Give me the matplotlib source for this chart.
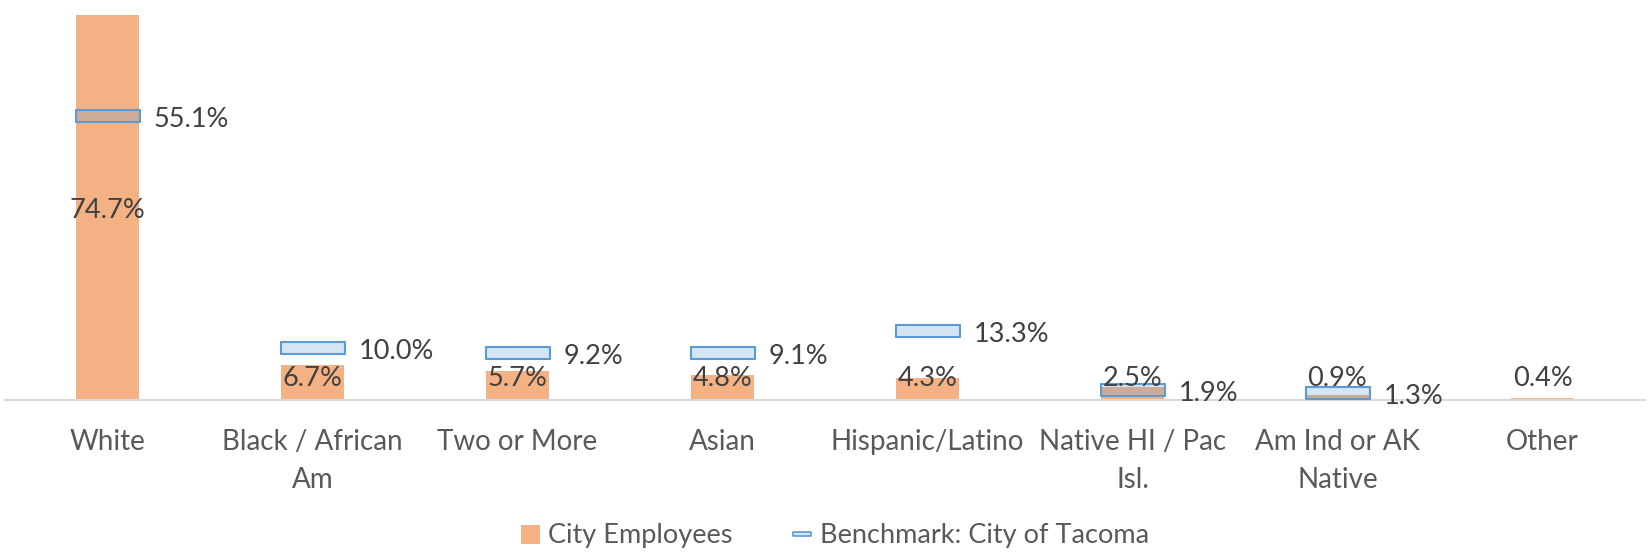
import matplotlib
matplotlib.use("Agg")
import matplotlib.pyplot as plt
import numpy as np
from matplotlib.path import Path
from matplotlib.lines import Line2D
from matplotlib.patches import Patch

plt.rcParams['font.family'] = ['Lato', 'DejaVu Sans']

categories = ["White", "Black / African\nAm", "Two or More", "Asian", "Hispanic/Latino",
              "Native HI / Pac\nIsl.", "Am Ind or AK\nNative", "Other"]
city_employees = [74.7, 6.7, 5.7, 4.8, 4.3, 2.5, 0.9, 0.4]
benchmark = [55.1, 10.0, 9.2, 9.1, 13.3, 1.9, 1.3, None]

ORANGE = "#F4B183"
BLUE = "#5B9BD5"
BLUE_FILL = (0x5B / 255, 0x9B / 255, 0xD5 / 255, 0.25)
VAL_COLOR = "#404040"
CAT_COLOR = "#595959"
FS = 19.5
CAT_FS = 20

fig = plt.figure(figsize=(16.48, 5.57), dpi=100)
ax = fig.add_axes([5 / 1648, 157 / 557, 1640 / 1648, 400 / 557])

x = np.arange(len(categories))
ax.bar(x, city_employees, width=0.31, color=ORANGE, zorder=2)

rect = Path([(-1, -0.2), (1, -0.2), (1, 0.2), (-1, 0.2), (-1, -0.2)],
            [Path.MOVETO, Path.LINETO, Path.LINETO, Path.LINETO, Path.CLOSEPOLY])
bx = [xi for xi, b in zip(x, benchmark) if b is not None]
by = [b for b in benchmark if b is not None]
ax.plot(bx, by, ls='none', marker=rect, markersize=46, mfc=BLUE_FILL, mec=BLUE,
        mew=1.5, zorder=3)

ax.set_xlim(-0.5, len(categories) - 0.5)
ax.set_ylim(0, 77.6)

# labels for city employees (Excel centers; clamps above axis for short bars)
CLAMP = 4.7
for xi, v in zip(x, city_employees):
    ax.annotate(f"{v:.1f}%", xy=(xi, max(v / 2, CLAMP)), xytext=(0, -2),
                textcoords='offset points', ha='center', va='center',
                fontsize=FS, color=VAL_COLOR, zorder=4)

for xi, b in zip(bx, by):
    ax.annotate(f"{b:.1f}%", xy=(xi, b), xytext=(33, -2.5), textcoords='offset points',
                ha='left', va='center', fontsize=FS, color=VAL_COLOR, zorder=4)

for s in ['top', 'left', 'right']:
    ax.spines[s].set_visible(False)
ax.spines['bottom'].set_color('#D9D9D9')
ax.spines['bottom'].set_linewidth(1.5)
ax.set_yticks([])
ax.set_xticks(x)
ax.set_xticklabels(categories, fontsize=CAT_FS, color=CAT_COLOR, linespacing=1.55)
ax.tick_params(axis='x', length=0, pad=21)

handles = [Patch(facecolor=ORANGE, edgecolor='none'),
           Line2D([], [], ls='none', marker=rect, markersize=13, mfc=BLUE_FILL, mec=BLUE, mew=1.2)]
leg = fig.legend(handles, ["City Employees", "Benchmark: City of Tacoma"], loc='center',
                 bbox_to_anchor=(835 / 1648, 1 - 536 / 557), ncol=2, frameon=False,
                 fontsize=FS, handlelength=0.7, handleheight=0.7, handletextpad=0.3,
                 columnspacing=2.2)
for t in leg.get_texts():
    t.set_color(CAT_COLOR)

fig.savefig("out.png", dpi=100)
